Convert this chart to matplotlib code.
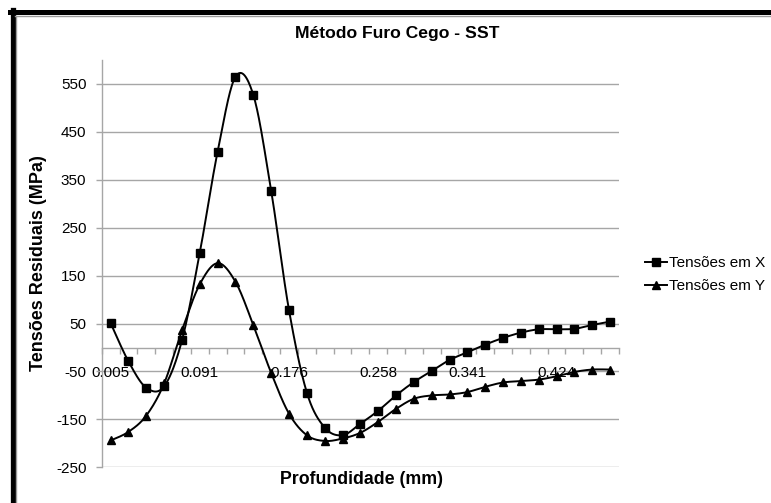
import numpy as np
import matplotlib
matplotlib.use("Agg")
import matplotlib.pyplot as plt
from matplotlib.lines import Line2D

# ---- data ----
title = "Método Furo Cego - SST"
x_label = "Profundidade (mm)"
y_label = "Tensões Residuais (MPa)"
series_names = ["Tensões em X", "Tensões em Y"]
tick_labels = ["0.005", "0.091", "0.176", "0.258", "0.341", "0.424"]
tension_x = [51, -29, -84, -81, 15, 198, 409, 565, 527, 327, 78, -94, -167,
             -183, -159, -132, -100, -72, -49, -26, -10, 6, 20, 31, 38, 38,
             39, 47, 54]
tension_y = [-194, -176, -142, -75, 36, 132, 176, 137, 47, -53, -138, -183,
             -195, -190, -178, -155, -128, -107, -100, -98, -93, -82, -73,
             -70, -67, -60, -51, -46, -46]
y_ticks = [-250, -150, -50, 50, 150, 250, 350, 450, 550]

plt.rcParams['font.family'] = ['Liberation Sans', 'DejaVu Sans']

W, H = 771, 503
fig = plt.figure(figsize=(W / 100, H / 100), dpi=100)
fig.patch.set_facecolor("white")

ax = fig.add_axes([101.7 / W, 1 - 467.3 / H, (619 - 101.7) / W, (467.3 - 60) / H])


def excel_smooth(y, n=30):
    """Bezier smoothing in the manner of Excel smoothed lines."""
    x = np.arange(len(y), dtype=float)
    y = np.asarray(y, dtype=float)
    xs, ys = [], []
    N = len(y)
    for i in range(N - 1):
        i0 = max(i - 1, 0)
        i3 = min(i + 2, N - 1)
        p0 = np.array([x[i0], y[i0]])
        p1 = np.array([x[i], y[i]])
        p2 = np.array([x[i + 1], y[i + 1]])
        p3 = np.array([x[i3], y[i3]])
        c1 = p1 + (p2 - p0) / 6.0
        c2 = p2 - (p3 - p1) / 6.0
        t = np.linspace(0, 1, n)[:, None]
        pts = ((1 - t) ** 3) * p1 + 3 * ((1 - t) ** 2) * t * c1 + 3 * (1 - t) * t ** 2 * c2 + t ** 3 * p2
        if i > 0:
            pts = pts[1:]
        xs.append(pts[:, 0])
        ys.append(pts[:, 1])
    return np.concatenate(xs), np.concatenate(ys)


grid_c = "#a6a6a6"
for yt in y_ticks:
    ax.axhline(yt, color=grid_c, lw=1.0, zorder=1)

idx = np.arange(len(tension_x))
for vals, mk, ms in [(tension_x, "s", 5.6), (tension_y, "^", 6.2)]:
    sx, sy = excel_smooth(vals)
    ax.plot(sx, sy, color="black", lw=1.4, zorder=3)
    ax.plot(idx, vals, linestyle="none", marker=mk, ms=ms, color="black", zorder=4)

ax.set_xlim(-0.5, len(tension_x) - 0.5)
ax.set_ylim(-250, 600)

# axes styling
for s in ["top", "right"]:
    ax.spines[s].set_visible(False)
ax.spines["left"].set_color(grid_c)
ax.spines["left"].set_linewidth(1.0)
ax.spines["bottom"].set_position(("data", 0))
ax.spines["bottom"].set_color(grid_c)
ax.spines["bottom"].set_linewidth(1.0)

ax.set_yticks(y_ticks)
ax.set_yticklabels([str(v) for v in y_ticks])
ax.tick_params(axis="y", length=4, color=grid_c, width=1, pad=7, labelsize=11)

ax.set_xticks(np.arange(-0.5, len(tension_x), 1.0))
ax.set_xticklabels([])
ax.tick_params(axis="x", which="major", length=4, color=grid_c, width=1, direction="out")
ax.set_xticks(np.arange(0, len(tension_x), 5), minor=True)
ax.set_xticklabels(tick_labels, minor=True)
ax.tick_params(axis="x", which="minor", length=0, pad=13.5, labelsize=11)

fig.text(397 / W, 1 - 33 / H, title, ha="center", va="center",
         fontsize=12.6, fontweight="bold")
fig.text(361.5 / W, 1 - 480 / H, x_label, ha="center", va="center",
         fontsize=12.8, fontweight="bold")
fig.text(38.5 / W, 1 - 263.5 / H, y_label, ha="center", va="center",
         fontsize=13, fontweight="bold", rotation=90)

# legend
handles = [Line2D([], [], color="black", lw=1.4, marker="s", ms=5.6),
           Line2D([], [], color="black", lw=1.4, marker="^", ms=6.2)]
fig.legend(handles, series_names, loc="center left",
           bbox_to_anchor=(645 / W, 1 - 274.7 / H), frameon=False,
           fontsize=11, handlelength=1.45, handletextpad=0.15,
           labelspacing=0.55, borderaxespad=0, borderpad=0)

# outer frame (top and left thick black, thin grey inner)
fig.add_artist(Line2D([10 / W, 1], [1 - 12 / H, 1 - 12 / H], color="black", lw=3.6,
                      transform=fig.transFigure))
fig.add_artist(Line2D([12.5 / W, 12.5 / W], [0, 1 - 10 / H], color="black", lw=3.8,
                      transform=fig.transFigure))
fig.add_artist(Line2D([15 / W, 1], [1 - 15.5 / H, 1 - 15.5 / H], color="#9a9a9a", lw=1.0,
                      transform=fig.transFigure))
fig.add_artist(Line2D([16 / W, 16 / W], [0, 1 - 15.5 / H], color="#9a9a9a", lw=1.0,
                      transform=fig.transFigure))

fig.savefig("out.png", dpi=100, facecolor="white")
